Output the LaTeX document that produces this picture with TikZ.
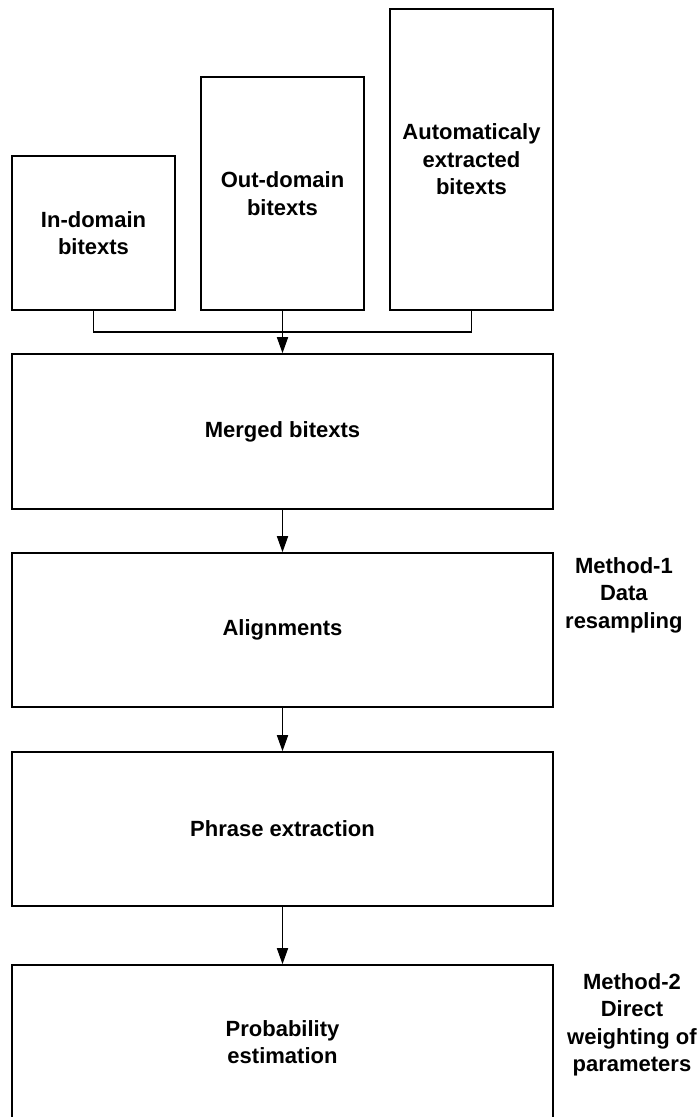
\documentclass[tikz,border=0pt]{standalone}
\usepackage{fontspec}
\setmainfont{Liberation Sans}
\usepackage{tikz}
\usetikzlibrary{arrows.meta}

\begin{document}
\begin{tikzpicture}[x=1pt,y=-1pt,
  box/.style={draw,line width=1.6pt,inner sep=0pt,align=center,
    font=\fontsize{22}{27.5}\selectfont\bfseries},
  lbl/.style={inner sep=0pt,align=center,anchor=west,
    font=\fontsize{22}{27.5}\selectfont\bfseries},
  arr/.style={-{Triangle[length=16pt,width=11pt]},line width=1.6pt}]

\useasboundingbox (0,0) rectangle (699,1117);

\begin{scope}
% sources
\node[box,minimum width=163pt,minimum height=154pt] (indom) at (93.5,233) {In-domain\\bitexts};
\node[box,minimum width=163pt,minimum height=233pt] (outdom) at (282.5,193.5) {Out-domain\\bitexts};
\node[box,minimum width=163pt,minimum height=301pt] (autoext) at (471.5,159.5) {Automaticaly\\extracted\\bitexts};

% pipeline
\node[box,minimum width=541pt,minimum height=155pt] (merged) at (282.5,431.5) {Merged bitexts};
\node[box,minimum width=541pt,minimum height=154pt] (align) at (282.5,630) {Alignments};
\node[box,minimum width=541pt,minimum height=154pt] (phrase) at (282.5,829) {Phrase extraction};
\node[box,minimum width=541pt,minimum height=154pt] (prob) at (282.5,1042) {Probability\\estimation};

\node[lbl] (meth1) at (565,595) {Method-1\\Data\\resampling};
\node[lbl] (meth2) at (567,1025) {Method-2\\Direct\\weighting of\\parameters};

\coordinate (join) at (282.5,332);
\draw[line width=1.6pt] (indom.south) |- (join) -| (autoext.south);
\draw[arr] (outdom.south) -- (merged.north);
\draw[arr] (merged.south) -- (align.north);
\draw[arr] (align.south) -- (phrase.north);
\draw[arr] (phrase.south) -- (prob.north);
\end{scope}

\end{tikzpicture}
\end{document}
